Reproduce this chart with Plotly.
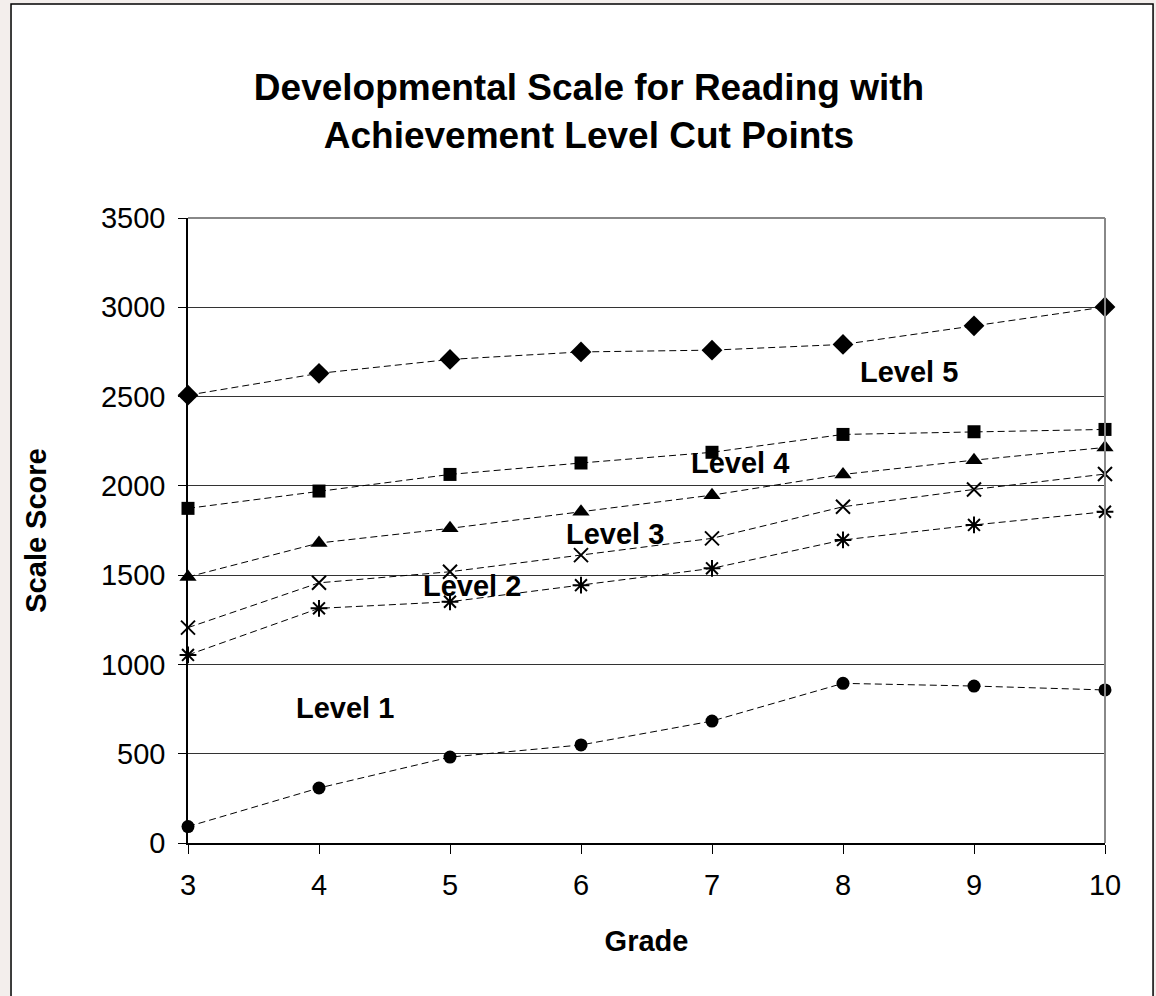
import plotly.graph_objects as go

grades = [3, 4, 5, 6, 7, 8, 9, 10]
level1_floor = [92, 308, 481, 549, 683, 894, 879, 857]
level2_low = [1053, 1314, 1351, 1444, 1538, 1697, 1781, 1855]
level2_high = [1206, 1457, 1519, 1612, 1706, 1883, 1980, 2066]
level3_cut = [1490, 1680, 1762, 1855, 1948, 2064, 2144, 2215]
level4_cut = [1874, 1971, 2064, 2128, 2188, 2288, 2303, 2316]
level5_cut = [2508, 2630, 2708, 2750, 2760, 2792, 2896, 3002]

y_ticks = [0, 500, 1000, 1500, 2000, 2500, 3000, 3500]

labels = ["Level 5", "Level 4", "Level 3", "Level 2", "Level 1"]
label_x = [8.50, 7.21, 6.26, 5.17, 4.20]
label_y = [2638, 2128, 1733, 1439, 756]

FONT = "Liberation Sans, Arial, sans-serif"

fig = go.Figure()

series = [
    (level5_cut, "diamond", 16, None),
    (level4_cut, "square", 13, None),
    (level3_cut, "triangle-up", 15, None),
    (level2_high, "x-thin-open", 14, 2),
    (level2_low, "asterisk-open", 14, 2),
    (level1_floor, "circle", 13, None),
]
for vals, sym, sz, lw in series:
    marker = dict(symbol=sym, size=sz, color="black")
    if lw:
        marker["line"] = dict(color="black", width=lw)
    fig.add_trace(go.Scatter(
        x=grades, y=vals, mode="lines+markers",
        line=dict(color="black", width=1, dash="7px,4px"),
        marker=marker, cliponaxis=False, showlegend=False,
    ))

for t, x, y in zip(labels, label_x, label_y):
    fig.add_annotation(x=x, y=y, text="<b>" + t + "</b>", showarrow=False,
                       font=dict(family=FONT, size=29, color="black"))

# outer white chart box
fig.add_shape(type="rect", xref="paper", yref="paper",
              x0=-0.193, x1=1.0524, y0=-0.26, y1=1.3424,
              fillcolor="white", line=dict(color="black", width=1.5), layer="below")
# top and right plot-area border
fig.add_shape(type="line", xref="paper", yref="paper", x0=0, x1=1, y0=1, y1=1,
              line=dict(color="#888888", width=2))
fig.add_shape(type="line", xref="paper", yref="paper", x0=1, x1=1, y0=0, y1=1,
              line=dict(color="#888888", width=2))

fig.update_layout(
    width=1156, height=996,
    margin=dict(l=188, r=51, t=218, b=153),
    paper_bgcolor="#f3eeec", plot_bgcolor="white",
    font=dict(family=FONT, color="black"),
    title=dict(text="<b>Developmental Scale for Reading with<br>Achievement Level Cut Points</b>",
               x=0.5095, xanchor="center", y=0.9, yanchor="middle",
               font=dict(size=37, family=FONT, color="black")),
    xaxis=dict(range=[3, 10], tickvals=grades, ticktext=[str(g) for g in grades],
               showgrid=False, zeroline=False, showline=True, linecolor="black", linewidth=1.5,
               ticks="outside", ticklen=9, tickcolor="black", ticklabelstandoff=6,
               tickfont=dict(size=29, family=FONT),
               title=dict(text="<b>Grade</b>", font=dict(size=29, family=FONT), standoff=31)),
    yaxis=dict(range=[0, 3500], tickvals=y_ticks,
               showgrid=True, gridcolor="#333333", gridwidth=1, zeroline=False,
               showline=True, linecolor="black", linewidth=1.5,
               ticks="outside", ticklen=8, tickcolor="black", ticklabelstandoff=7,
               tickfont=dict(size=29, family=FONT),
               title=dict(text="<b>Scale Score</b>", font=dict(size=29, family=FONT), standoff=46)),
)

fig.write_html("out.html", config={"displayModeBar": False},
               post_script="document.body.style.margin='0';")
